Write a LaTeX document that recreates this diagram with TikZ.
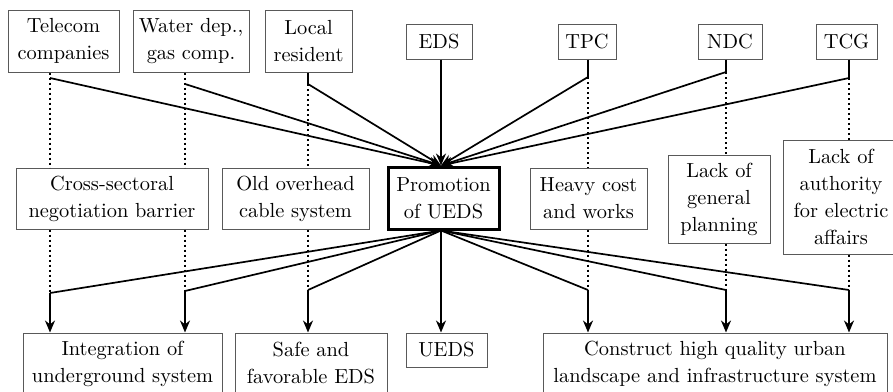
\documentclass[tikz,border=0pt]{standalone}
\usetikzlibrary{arrows.meta}

\tikzset{
    box/.style={draw=black!65, line width=0.5pt, align=center, inner sep=0pt,
        font=\fontsize{10.2}{13.5}\selectfont},
    mainbox/.style={box, draw=black, line width=1.5pt},
    link/.style={line width=0.85pt},
    stem/.style={line width=1.3pt},
    dots/.style={line width=1.2pt, dash pattern=on 1.2pt off 1.3pt},
    >={Stealth[length=6pt, width=5pt]}
}

\begin{document}
\begin{tikzpicture}[x=0.5pt, y=-0.5pt]
    \useasboundingbox (0,0) rectangle (893,391);
    \fill[white] (0,0) rectangle (893,391);
    \clip (0,0) rectangle (893,391);

    % Actors
    \node[box, minimum width=55.5pt, minimum height=31pt] (tel) at (63.5,41) {Telecom\\companies};
    \node[box, minimum width=58pt, minimum height=31pt] (wat) at (191,41) {Water dep.,\\gas comp.};
    \node[box, minimum width=43.5pt, minimum height=31pt] (loc) at (308.5,41) {Local\\resident};
    \node[box, minimum width=33pt, minimum height=17.5pt] (eds) at (439,41.5) {EDS};
    \node[box, minimum width=29pt, minimum height=17.5pt] (tpc) at (587,41.5) {TPC};
    \node[box, minimum width=32pt, minimum height=17.5pt] (ndc) at (730,41.5) {NDC};
    \node[box, minimum width=30.5pt, minimum height=17.5pt] (tcg) at (846.5,41.5) {TCG};

    % Barriers and promotion
    \node[box, minimum width=96pt, minimum height=30.5pt] (cross) at (112,198.5) {Cross-sectoral\\negotiation barrier};
    \node[box, minimum width=73.5pt, minimum height=30.5pt] (old) at (295.5,198.5) {Old overhead\\cable system};
    \node[mainbox, minimum width=55.5pt, minimum height=31pt] (promo) at (443.5,198) {Promotion\\of UEDS};
    \node[box, minimum width=58.5pt, minimum height=30.5pt] (heavy) at (588.5,198.5) {Heavy cost\\and works};
    \node[box, minimum width=51pt, minimum height=44pt] (gen) at (719,199) {Lack of\\general\\planning};
    \node[box, minimum width=58pt, minimum height=57pt] (auth) at (841,197) {Lack of\\authority\\for electric\\affairs};

    % Results
    \node[box, minimum width=99.5pt, minimum height=30.5pt] (integ) at (122.5,363.5) {Integration of\\underground system};
    \node[box, minimum width=76pt, minimum height=30.5pt] (safe) at (311,363.5) {Safe and\\favorable EDS};
    \node[box, minimum width=40.5pt, minimum height=17pt] (ueds) at (446.5,350) {UEDS};
    \node[box, minimum width=172pt, minimum height=30.5pt] (constr) at (715,363.5) {Construct high quality urban\\landscape and infrastructure system};

    % Branch points
    \coordinate (pin) at ([xshift=-1.25pt]promo.north);
    \coordinate (pout) at ([xshift=-1.25pt]promo.south);
    \coordinate (t1) at (50,78);
    \coordinate (t2) at (185,84);
    \coordinate (t3) at (308,84);
    \coordinate (t5) at (588,77);
    \coordinate (t6) at (726,72);
    \coordinate (t7) at (849,78);
    \coordinate (b1) at (50,293);
    \coordinate (b2) at (185,291);
    \coordinate (b3) at (308,290);
    \coordinate (b5) at (588,290);
    \coordinate (b6) at (726,290);
    \coordinate (b7) at (849,290);

    % Upper links
    \draw[dots] (tel.south -| t1) -- (cross.north -| t1);
    \draw[dots] (wat.south -| t2) -- (cross.north -| t2);
    \draw[stem] (loc.south -| t3) -- (t3);
    \draw[dots] (t3) -- (old.north -| t3);
    \draw[stem] (tpc.south -| t5) -- (t5);
    \draw[dots] (t5) -- (heavy.north -| t5);
    \draw[stem] (ndc.south -| t6) -- (t6);
    \draw[dots] (t6) -- (gen.north -| t6);
    \draw[stem] (tcg.south -| t7) -- (t7);
    \draw[dots] (t7) -- (auth.north -| t7);
    \foreach \t in {t1, t2, t3, t5, t6, t7}
        \draw[link, ->] (\t) -- (pin);
    \draw[stem, ->] (eds.south -| pin) -- (pin);

    % Lower links
    \draw[dots] (cross.south -| b1) -- (b1);
    \draw[dots] (cross.south -| b2) -- (b2);
    \draw[dots] (old.south -| b3) -- (b3);
    \draw[dots] (heavy.south -| b5) -- (b5);
    \draw[dots] (gen.south -| b6) -- (b6);
    \draw[dots] (auth.south -| b7) -- (b7);
    \foreach \b in {b1, b2, b3, b5, b6, b7}
        \draw[link] (pout) -- (\b);
    \draw[stem, ->] (b1) -- (integ.north -| b1);
    \draw[stem, ->] (b2) -- (integ.north -| b2);
    \draw[stem, ->] (b3) -- (safe.north -| b3);
    \draw[stem, ->] (pout) -- (ueds.north -| pout);
    \foreach \b in {b5, b6, b7}
        \draw[stem, ->] (\b) -- (constr.north -| \b);
\end{tikzpicture}
\end{document}
